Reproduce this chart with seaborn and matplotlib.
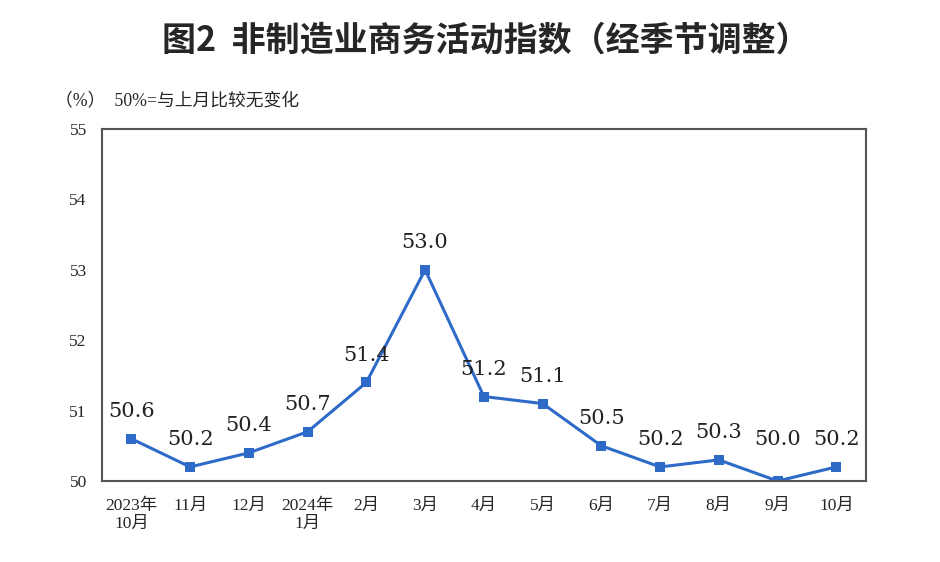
import matplotlib
matplotlib.use("Agg")
import matplotlib.pyplot as plt
import seaborn as sns
import pandas as pd
from matplotlib.ticker import FixedLocator

months = ["2023年\n10月", "11月", "12月", "2024年\n1月", "2月", "3月", "4月",
          "5月", "6月", "7月", "8月", "9月", "10月"]
values = [50.6, 50.2, 50.4, 50.7, 51.4, 53.0, 51.2, 51.1, 50.5, 50.2, 50.3, 50.0, 50.2]
yticks = [50, 51, 52, 53, 54, 55]

sns.set_theme(style="white")
plt.rcParams['font.family'] = ['Liberation Serif', 'Noto Sans CJK SC', 'DejaVu Sans']

df = pd.DataFrame({"x": range(len(months)), "v": values})

fig = plt.figure(figsize=(9.4, 5.62), dpi=100)
ax = fig.add_axes([0.1085, 0.1441, 0.8125, 0.6264])
color = "#2E6BC8"
sns.lineplot(data=df, x="x", y="v", ax=ax, color=color, linewidth=2.2,
             marker="s", markersize=6.5, markeredgewidth=0, markerfacecolor=color)

ax.set_xlim(-0.5, len(months) - 0.5)
ax.set_ylim(50, 55)
ax.set_yticks(yticks)
ax.set_yticklabels([str(t) for t in yticks], fontsize=12.5)
ax.set_xticks(range(len(months)))
ax.set_xticklabels(months, fontsize=12.5, linespacing=1.2)
ax.xaxis.set_minor_locator(FixedLocator([i + 0.5 for i in range(len(months) - 1)]))
ax.tick_params(axis="x", which="major", length=0, pad=12)
ax.tick_params(axis="x", which="minor", direction="in", length=5, width=1, color="#444444")
ax.tick_params(axis="y", which="major", direction="in", length=5, width=1, color="#444444", pad=11)
ax.set_xlabel("")
ax.set_ylabel("")
for s in ax.spines.values():
    s.set_color("#555555")
    s.set_linewidth(1.5)

for i, v in enumerate(values):
    off = 42 if v == 50.0 else 27
    ax.annotate(f"{v:.1f}", (i, v), xytext=(0, off), textcoords="offset pixels",
                ha="center", va="center", fontsize=15, color="#222222",
                family=['DejaVu Serif'])

fig.text(0.517, 0.929, "图2  非制造业商务活动指数（经季节调整）", ha="center", va="center",
         fontsize=24.5, fontweight="bold", family=['Noto Sans CJK SC', 'DejaVu Sans'])
fig.text(0.059, 0.82, "（%）  50%=与上月比较无变化", ha="left", va="center",
         fontsize=12.8, family=['Liberation Serif', 'Noto Sans CJK SC'])

fig.savefig("out.png", dpi=100)
